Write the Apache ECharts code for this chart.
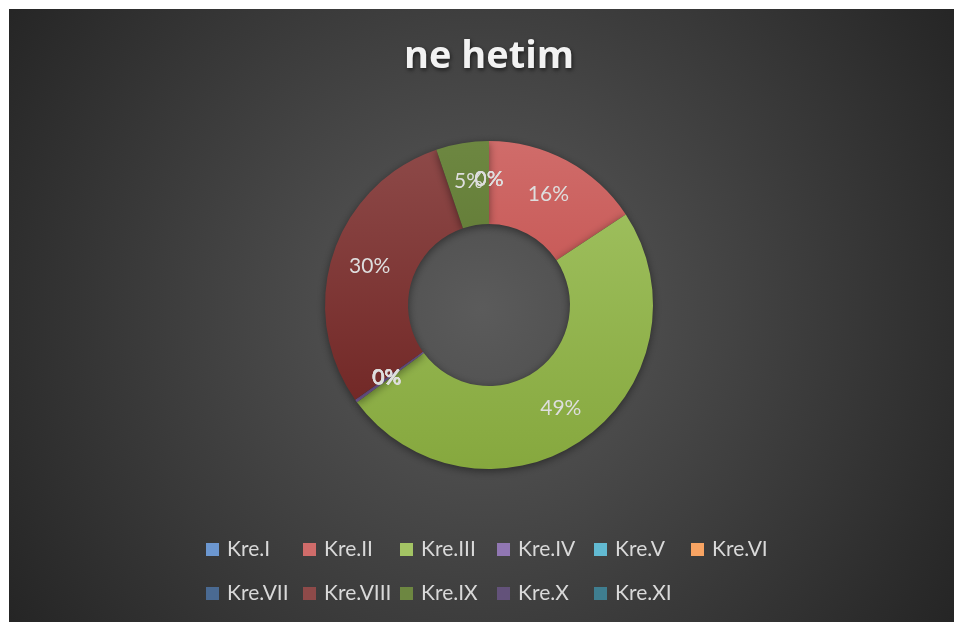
<!DOCTYPE html>
<html>
<head>
<meta charset="utf-8">
<script src="https://cdn.jsdelivr.net/npm/echarts@6/dist/echarts.min.js"></script>
<style>
  html, body { margin: 0; padding: 0; background: #ffffff; }
  #donut-chart { position: absolute; left: 9px; top: 9px; width: 945px; height: 613px; }
</style>
</head>
<body>
<div id="donut-chart"></div>
<script>
// categories and shares (percent of total)
var categories = ['Kre.I', 'Kre.II', 'Kre.III', 'Kre.IV', 'Kre.V', 'Kre.VI',
  'Kre.VII', 'Kre.VIII', 'Kre.IX', 'Kre.X', 'Kre.XI'];
var shares = [0, 15.7, 49.2, 0.3, 0, 0, 0, 29.6, 5.2, 0, 0];
var title = 'ne hetim';

// office palette, lighter at the top of the ring, darker at the bottom
var topColors = ['#6c97d0', '#d06c6a', '#a3c464', '#9177b3', '#62bad2', '#f8a463',
  '#4a6a92', '#8e4a49', '#6d8741', '#63527a', '#3f7e90'];
var bottomColors = ['#3f6fae', '#bb3f3c', '#86a83e', '#735798', '#3d9eb8', '#ee8538',
  '#243f63', '#6b201e', '#536a27', '#3f3053', '#1f5c6c'];

var chart = echarts.init(document.getElementById('donut-chart'));

var pieData = categories.map(function (name, i) {
  return {
    name: name,
    value: shares[i],
    itemStyle: {
      color: {
        type: 'linear', global: true,
        x: 0, y: 132, x2: 0, y2: 460,
        colorStops: [
          { offset: 0, color: topColors[i] },
          { offset: 1, color: bottomColors[i] }
        ]
      }
    }
  };
});

// excel lays legend entries out on a fixed grid: 6 per row
var legends = categories.map(function (name, i) {
  return {
    left: 197 + (i % 6) * 97,
    top: 530 + Math.floor(i / 6) * 44,
    padding: 0,
    icon: 'rect',
    itemWidth: 13,
    itemHeight: 13,
    selectedMode: false,
    formatter: '{n|{name}}',
    textStyle: {
      color: '#d9d9d9',
      fontFamily: 'Lato',
      fontSize: 21,
      rich: {
        n: { color: '#d9d9d9', fontFamily: 'Lato', fontSize: 21, padding: [0, 0, 0, 3] }
      }
    },
    data: [name]
  };
});

var option = {
  backgroundColor: {
    type: 'radial', global: true,
    x: 472, y: 300, r: 565,
    colorStops: [
      { offset: 0, color: '#5b5b5b' },
      { offset: 1, color: '#252525' }
    ]
  },
  color: bottomColors,
  title: {
    text: title,
    left: 395,
    top: 29,
    padding: 0,
    textStyle: {
      color: '#f2f2f2',
      fontFamily: 'Open Sans',
      fontWeight: 'bold',
      fontSize: 38,
      textShadowColor: 'rgba(0,0,0,0.6)',
      textShadowBlur: 4,
      textShadowOffsetX: 1,
      textShadowOffsetY: 2
    }
  },
  legend: legends,
  series: [
    {
      type: 'pie',
      center: [480, 296],
      radius: [81, 164],
      startAngle: 90,
      clockwise: true,
      avoidLabelOverlap: false,
      minShowLabelAngle: 0,
      labelLayout: { hideOverlap: false },
      silent: true,
      itemStyle: {
        borderWidth: 0,
        shadowBlur: 8,
        shadowColor: 'rgba(0,0,0,0.45)',
        shadowOffsetY: 2
      },
      label: {
        show: true,
        position: 'inside',
        color: '#dedede',
        fontFamily: 'Lato',
        fontSize: 21,
        textBorderWidth: 0,
        formatter: function (p) { return Math.round(p.percent) + '%'; }
      },
      labelLine: { show: false },
      data: pieData
    }
  ]
};

chart.setOption(option);
</script>
</body>
</html>
